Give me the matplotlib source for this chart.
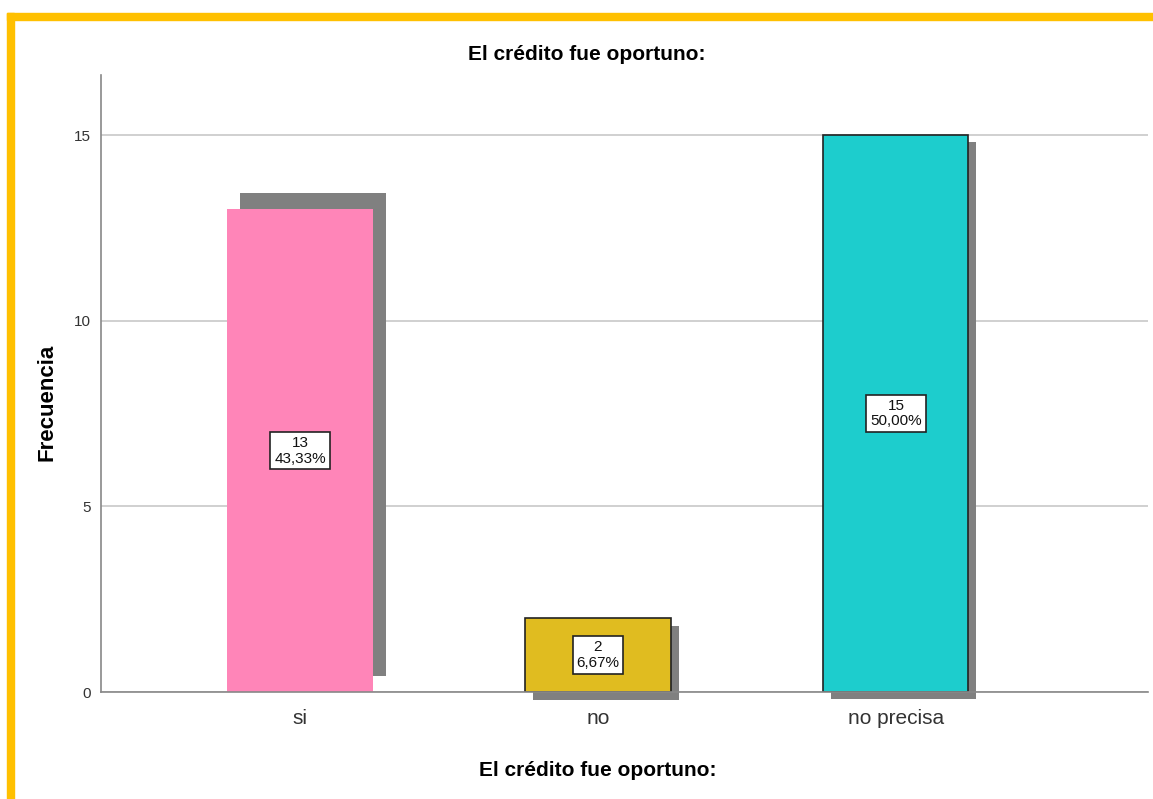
import matplotlib
matplotlib.use("Agg")
import matplotlib.pyplot as plt
from matplotlib.patches import Rectangle
import matplotlib.transforms as mtransforms

categories = ["si", "no", "no precisa"]
counts = [13, 2, 15]
percents = ["43,33%", "6,67%", "50,00%"]
colors = ["#FF85B8", "#E0BC20", "#1DCDCD"]
edgecolors = ["none", "#222222", "#222222"]
shadow_offsets = [(13, 16), (8, -8), (8, -7)]  # pixels (dx, dy)

plt.rcParams['font.family'] = ['Liberation Sans', 'DejaVu Sans']

W, H, DPI = 1153, 799, 100
fig = plt.figure(figsize=(W / DPI, H / DPI), dpi=DPI)
ax = fig.add_axes([101 / W, 1 - 692 / H, (1148 - 101) / W, (692 - 75) / H])

x = list(range(len(categories)))
width = 0.487
for i, (xi, c) in enumerate(zip(x, counts)):
    dx, dy = shadow_offsets[i]
    tr = ax.transData + mtransforms.ScaledTranslation(dx / DPI, dy / DPI, fig.dpi_scale_trans)
    bars = ax.bar(xi, c, width=width, color="#808080", transform=tr, zorder=2)
    for b in bars:
        b.set_clip_on(False)
ax.bar(x, counts, width=width, color=colors, edgecolor=edgecolors, linewidth=1.2, zorder=3)

for xi, c, p in zip(x, counts, percents):
    ax.text(xi, c / 2, f"{c}\n{p}", ha="center", va="center", fontsize=11,
            linespacing=1.15, zorder=5, color="#111111",
            bbox=dict(boxstyle="square,pad=0.25", fc="white", ec="#222222", lw=1.2))

ax.set_xlim(-0.668, 2.846)
ax.set_ylim(0, 16.62)
ax.set_yticks([0, 5, 10, 15])
ax.set_xticks(x)
ax.set_xticklabels(categories, fontsize=15, color="#333333")
ax.tick_params(axis="y", labelsize=11, length=0, pad=7, labelcolor="#333333")
ax.tick_params(axis="x", length=0, pad=12)
ax.yaxis.grid(True, color="#C8C8C8", linewidth=1.2, zorder=0)
ax.set_axisbelow(True)
for s in ["top", "right"]:
    ax.spines[s].set_visible(False)
for s in ["left", "bottom"]:
    ax.spines[s].set_color("#888888")
    ax.spines[s].set_linewidth(1.2)
ax.spines["bottom"].set_zorder(4)

fig.text(587 / W, 1 - 55 / H, "El crédito fue oportuno:", ha="center", va="center",
         fontsize=15, fontweight="bold")
fig.text(598 / W, 1 - 770 / H, "El crédito fue oportuno:", ha="center", va="center",
         fontsize=15, fontweight="bold")
fig.text(47 / W, 1 - 402 / H, "Frecuencia", ha="center", va="center", rotation=90,
         fontsize=16, fontweight="bold")

# yellow frame (top and left)
fig.patches.append(Rectangle((7 / W, 1 - 20 / H), 1, 7 / H, transform=fig.transFigure,
                             color="#FFC000", zorder=10))
fig.patches.append(Rectangle((7 / W, 0), 7 / W, 1 - 13 / H, transform=fig.transFigure,
                             color="#FFC000", zorder=10))

fig.savefig("out.png", dpi=DPI)
